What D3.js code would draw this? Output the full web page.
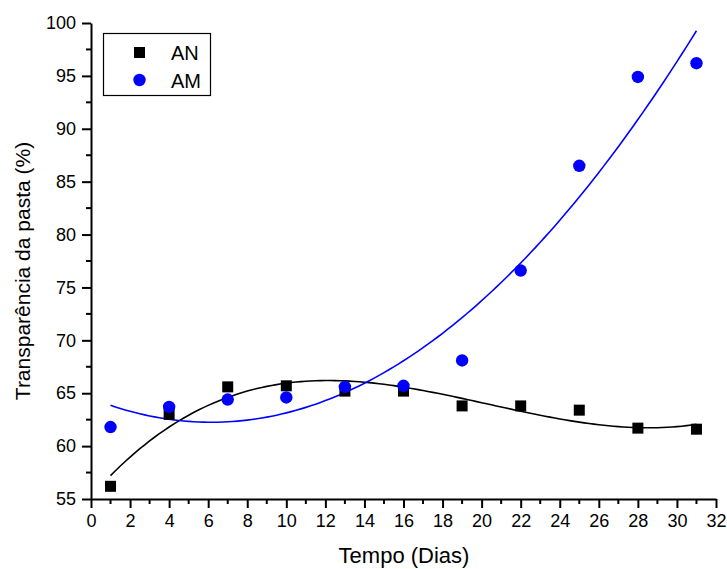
<!DOCTYPE html>
<html>
<head>
<meta charset="utf-8">
<script src="https://cdn.jsdelivr.net/npm/d3@7"></script>
<style>
  body { margin: 0; background: #fff; }
  svg { font-family: Arial, "Liberation Sans", sans-serif; }
</style>
</head>
<body>
<svg id="chart" width="727" height="569"></svg>
<script>
// data
const days = [1, 4, 7, 10, 13, 16, 19, 22, 25, 28, 31];
const anValues = [56.2, 63.0, 65.6, 65.7, 65.2, 65.2, 63.8, 63.8, 63.4, 61.7, 61.6];
const amValues = [61.8, 63.7, 64.4, 64.6, 65.6, 65.7, 68.1, 76.6, 86.5, 94.9, 96.2];
const xTicks = d3.range(0, 33, 2);
const yTicks = d3.range(55, 101, 5);

const width = 727, height = 569;
const margin = { left: 91, right: 11, top: 23, bottom: 70 };

const svg = d3.select('#chart');

const x = d3.scaleLinear().domain([0, 32]).range([margin.left, width - margin.right]);
const y = d3.scaleLinear().domain([55, 100]).range([height - margin.bottom, margin.top]);

// least squares polynomial fit, like the original software did
const polyFit = (xs, ys, deg) => {
  const n = deg + 1;
  const A = [];
  for (let i = 0; i < n; i++) {
    A.push([]);
    for (let j = 0; j < n; j++) A[i].push(d3.sum(xs, (v) => Math.pow(v, i + j)));
    A[i].push(d3.sum(xs, (v, k) => ys[k] * Math.pow(v, i)));
  }
  for (let c = 0; c < n; c++) {
    let p = c;
    for (let r = c + 1; r < n; r++) if (Math.abs(A[r][c]) > Math.abs(A[p][c])) p = r;
    [A[c], A[p]] = [A[p], A[c]];
    for (let r = 0; r < n; r++) {
      if (r === c) continue;
      const f = A[r][c] / A[c][c];
      for (let k = c; k <= n; k++) A[r][k] -= f * A[c][k];
    }
  }
  const coef = A.map((row, i) => row[n] / row[i]);
  return (t) => d3.sum(coef, (cf, i) => cf * Math.pow(t, i));
};

const anFit = polyFit(days, anValues, 3);
const amFit = polyFit(days, amValues, 2);
const fitX = d3.range(1, 31.01, 0.25);

const line = d3.line().x((d) => x(d[0])).y((d) => y(d[1]));

// fit curves
svg.append('path')
  .attr('d', line(fitX.map((t) => [t, anFit(t)])))
  .attr('fill', 'none')
  .attr('stroke', '#000')
  .attr('stroke-width', 1.6);

svg.append('path')
  .attr('d', line(fitX.map((t) => [t, amFit(t)])))
  .attr('fill', 'none')
  .attr('stroke', '#0000ff')
  .attr('stroke-width', 1.6);

// points
svg.selectAll('rect.an')
  .data(days)
  .enter()
  .append('rect')
  .attr('class', 'an')
  .attr('x', (d) => x(d) - 5.5)
  .attr('y', (d, i) => y(anValues[i]) - 5.5)
  .attr('width', 11)
  .attr('height', 11)
  .attr('fill', '#000');

svg.selectAll('circle.am')
  .data(days)
  .enter()
  .append('circle')
  .attr('class', 'am')
  .attr('cx', (d) => x(d))
  .attr('cy', (d, i) => y(amValues[i]))
  .attr('r', 6.2)
  .attr('fill', '#0000ff');

// axes
const xAxis = svg.append('g')
  .attr('transform', `translate(0,${y(55)})`)
  .call(d3.axisBottom(x).tickValues(xTicks).tickSize(9).tickPadding(6).tickSizeOuter(0));
xAxis.append('g')
  .selectAll('line')
  .data(d3.range(1, 32, 2))
  .enter()
  .append('line')
  .attr('x1', (d) => x(d))
  .attr('x2', (d) => x(d))
  .attr('y1', 0)
  .attr('y2', 5)
  .attr('stroke', '#000')
  .attr('stroke-width', 2);

const yAxis = svg.append('g')
  .attr('transform', `translate(${x(0)},0)`)
  .call(d3.axisLeft(y).tickValues(yTicks).tickSize(9).tickPadding(6).tickSizeOuter(0));
yAxis.append('g')
  .selectAll('line')
  .data(d3.range(57.5, 100, 5))
  .enter()
  .append('line')
  .attr('x1', 0)
  .attr('x2', -5)
  .attr('y1', (d) => y(d))
  .attr('y2', (d) => y(d))
  .attr('stroke', '#000')
  .attr('stroke-width', 2);

svg.selectAll('.domain').attr('stroke-width', 2);
svg.selectAll('.tick line').attr('stroke-width', 2);
svg.selectAll('.tick text')
  .attr('font-family', 'Arial, "Liberation Sans", sans-serif')
  .attr('font-size', 18)
  .attr('fill', '#000');

// axis titles
svg.append('text')
  .attr('x', 404)
  .attr('y', 563)
  .attr('text-anchor', 'middle')
  .style('font-size', '22px')
  .text('Tempo (Dias)');

svg.append('text')
  .attr('transform', 'translate(30,271) rotate(-90)')
  .attr('text-anchor', 'middle')
  .style('font-size', '21px')
  .text('Transparência da pasta (%)');

// legend
const legend = svg.append('g');
legend.append('rect')
  .attr('x', 103.5)
  .attr('y', 33.5)
  .attr('width', 107)
  .attr('height', 62)
  .attr('fill', '#fff')
  .attr('stroke', '#000')
  .attr('stroke-width', 1.2);
legend.append('rect')
  .attr('x', 134)
  .attr('y', 47)
  .attr('width', 11)
  .attr('height', 11)
  .attr('fill', '#000');
legend.append('circle')
  .attr('cx', 139.5)
  .attr('cy', 80)
  .attr('r', 6.2)
  .attr('fill', '#0000ff');
legend.append('text')
  .attr('x', 171)
  .attr('y', 60)
  .style('font-size', '20px')
  .text('AN');
legend.append('text')
  .attr('x', 171)
  .attr('y', 88)
  .style('font-size', '20px')
  .text('AM');
</script>
</body>
</html>
